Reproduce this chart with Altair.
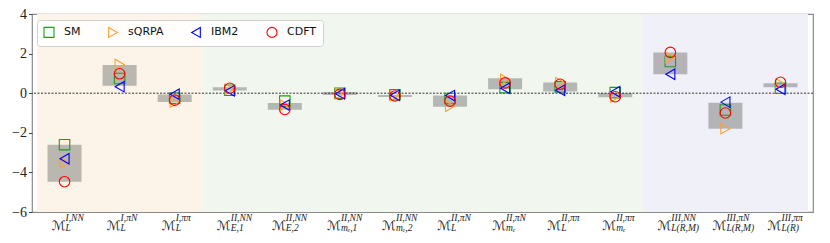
import altair as alt
import pandas as pd

# ---------------- data ----------------
sup_labels = ["I,NN", "I,πN", "I,ππ",
              "II,NN", "II,NN", "II,NN", "II,NN", "II,πN", "II,πN", "II,ππ", "II,ππ",
              "III,NN", "III,πN", "III,ππ"]
sub_labels = ["L", "L", "L",
              "E,1", "E,2", "mₑ,1", "mₑ,2", "L", "mₑ", "L", "mₑ",
              "L(R,M)", "L(R,M)", "L(R)"]

models = ["SM", "sQRPA", "IBM2", "CDFT"]
sm    = [-2.60, 0.74, -0.25, 0.15, -0.40, 0.00, -0.08, -0.27, 0.28, 0.32, 0.03, 1.60, -0.85, 0.25]
sqrpa = [-3.52, 1.45, -0.45, 0.20, -0.60, -0.03, -0.12, -0.66, 0.70, 0.53, -0.18, 1.80, -1.79, 0.47]
ibm2  = [-3.31, 0.33, -0.05, 0.12, -0.60, -0.03, -0.10, -0.12, 0.25, 0.15, 0.07, 0.96, -0.45, 0.20]
cdft  = [-4.47, 0.98, -0.35, 0.25, -0.82, -0.06, -0.14, -0.40, 0.52, 0.45, -0.18, 2.06, -1.00, 0.55]

box_low  = [-4.47, 0.37, -0.45, 0.14, -0.83, -0.09, -0.19, -0.68, 0.20, 0.08, -0.20, 0.96, -1.79, 0.30]
box_high = [-2.60, 1.42, -0.06, 0.30, -0.50, 0.06, -0.09, -0.11, 0.76, 0.54, 0.01, 2.06, -0.48, 0.50]

y_ticks = [-6, -4, -2, 0, 2, 4]

region_start = [-0.5, 2.5, 10.5]
region_end   = [2.5, 10.5, 13.5]
region_color = ["#fdf4e9", "#f1f6ef", "#f0f1f8"]

colors = ["#1f9a1f", "#ff9f30", "#0000ff", "#ff0000"]
shapes = ["square", "triangle-right", "triangle-left", "circle"]

# ---------------- tables ----------------
n = len(sup_labels)
idx = list(range(n))
pts = pd.DataFrame({
    "idx": idx * 4,
    "model": sum([[m] * n for m in models], []),
    "value": sm + sqrpa + ibm2 + cdft,
})
boxes = pd.DataFrame({"idx": idx, "lo": box_low, "hi": box_high})
regions = pd.DataFrame({"x0": region_start, "x1": region_end, "c": region_color})
labels = pd.DataFrame({"idx": idx, "sup": sup_labels, "sub": sub_labels})
zero = pd.DataFrame({"y": [0]})

W, H = 781, 198
xscale = alt.Scale(domain=[-0.5, 13.5], nice=False, zero=False)
yscale = alt.Scale(domain=[-6, 4], nice=False)
yaxis = alt.Axis(values=y_ticks, title=None, grid=False, domain=False,
                 tickSize=3.5, tickColor="#444", labelFont="Liberation Serif",
                 labelFontSize=14, labelColor="#222", labelPadding=2,
                 labelOverlap=False, labelFlush=False,
                 labelExpr="replace(datum.label, '-', '−')")

bg = alt.Chart(regions).mark_rect().encode(
    x=alt.X("x0:Q", scale=xscale, axis=None),
    x2="x1:Q",
    y=alt.value(0),
    y2=alt.value(H),
    color=alt.Color("c:N", scale=None),
)

bars = alt.Chart(boxes).mark_bar(size=34, color="#777777", opacity=0.5).encode(
    x=alt.X("idx:Q", scale=xscale, axis=None),
    y=alt.Y("lo:Q", scale=yscale, axis=yaxis),
    y2="hi:Q",
)

rule = alt.Chart(zero).mark_rule(color="#333333", strokeWidth=1, strokeDash=[2, 1.5]).encode(
    y=alt.Y("y:Q", scale=yscale, axis=yaxis),
)

leg = alt.Legend(title=None, orient="none", legendX=5, legendY=6, direction="horizontal",
                 columns=4, columnPadding=25, labelFont="DejaVu Sans", labelFontSize=11,
                 labelColor="#111", symbolSize=100, symbolStrokeWidth=1.1, labelOffset=9,
                 padding=6, fillColor="rgba(255,255,255,0.85)", strokeColor="#d0d0d0",
                 cornerRadius=3, symbolType="circle")

points = alt.Chart(pts).mark_point(filled=False, size=110, strokeWidth=1.1, opacity=1).encode(
    x=alt.X("idx:Q", scale=xscale, axis=None),
    y=alt.Y("value:Q", scale=yscale, axis=yaxis),
    color=alt.Color("model:N", scale=alt.Scale(domain=models, range=colors), legend=leg),
    shape=alt.Shape("model:N", scale=alt.Scale(domain=models, range=shapes), legend=leg),
    order=alt.Order("ord:Q"),
).transform_calculate(
    ord="indexof(['SM','sQRPA','IBM2','CDFT'], datum.model)"
)

mainlab = alt.Chart(labels).mark_text(align="right", baseline="alphabetic", dx=1,
                                      font="DejaVu Sans", fontSize=13, fontWeight="normal",
                                      color="#222").encode(
    x=alt.X("idx:Q", scale=xscale, axis=None),
    y=alt.value(216),
    text=alt.value("ℳ"),
)
suplab = alt.Chart(labels).mark_text(align="left", baseline="alphabetic", dx=1,
                                     font="Liberation Serif", fontStyle="italic",
                                     fontSize=9.5, color="#222").encode(
    x=alt.X("idx:Q", scale=xscale, axis=None),
    y=alt.value(207),
    text="sup:N",
)
sublab = alt.Chart(labels).mark_text(align="left", baseline="alphabetic", dx=1,
                                     font="Liberation Serif", fontStyle="italic",
                                     fontSize=9.5, color="#222").encode(
    x=alt.X("idx:Q", scale=xscale, axis=None),
    y=alt.value(217),
    text="sub:N",
)

chart = alt.layer(bg, bars, rule, points, mainlab, suplab, sublab).properties(
    width=W, height=H,
    padding={"left": 24, "top": 6, "right": 9, "bottom": 31},
    autosize=alt.AutoSizeParams(type="none"),
    background="white",
).configure_view(stroke="#8a8a8a", strokeWidth=1.2)

chart.save("out.html", embed_options={"renderer": "svg", "actions": False})
